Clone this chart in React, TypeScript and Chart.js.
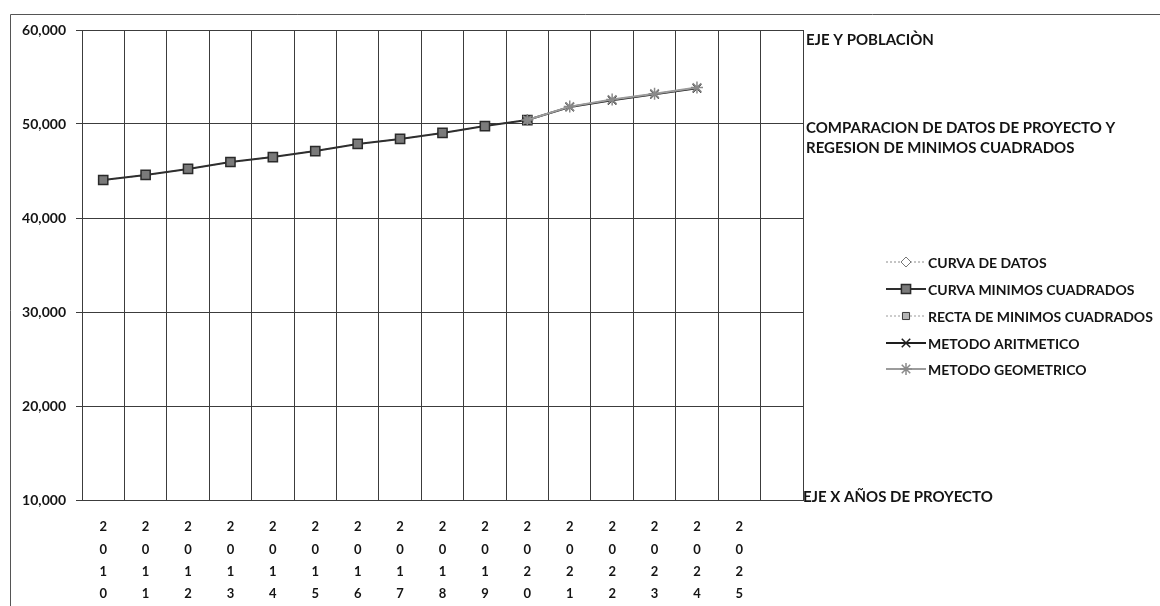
import React, { useEffect, useRef } from "react";
import { Chart, registerables } from "chart.js";
import { drawPoint } from "chart.js/helpers";

Chart.register(...registerables);

const years: string[] = ["2010", "2011", "2012", "2013", "2014", "2015", "2016", "2017", "2018", "2019", "2020", "2021", "2022", "2023", "2024", "2025", ""];

const curvaDatos: (number | null)[] = [44050, 44570, 45210, 45950, 46490, 47130, 47870, 48400, 49040, 49790, 50430, null, null, null, null, null, null];
const curvaMinimos: (number | null)[] = [44040, 44580, 45220, 45960, 46480, 47120, 47880, 48410, 49050, 49780, 50420, null, null, null, null, null, null];
const rectaMinimos: (number | null)[] = [44030, 44560, 45200, 45940, 46500, 47140, 47860, 48420, 49030, 49800, 50440, null, null, null, null, null, null];
const metodoAritmetico: (number | null)[] = [null, null, null, null, null, null, null, null, null, null, 50430, 51800, 52520, 53170, 53800, null, null];
const metodoGeometrico: (number | null)[] = [null, null, null, null, null, null, null, null, null, null, 50430, 51850, 52600, 53230, 53880, null, null];

const seriesNames: string[] = ["CURVA DE DATOS", "CURVA MINIMOS CUADRADOS", "RECTA DE MINIMOS CUADRADOS", "METODO ARITMETICO", "METODO GEOMETRICO"];

const yTicks: number[] = [10000, 20000, 30000, 40000, 50000, 60000];

const FONT = "Lato, 'Open Sans', sans-serif";
const TEXT = "#141414";

const annotations = [
  { text: "EJE Y POBLACIÒN", x: 806, y: 40 },
  { text: "COMPARACION DE DATOS DE PROYECTO Y", x: 806, y: 128 },
  { text: "REGESION DE MINIMOS CUADRADOS", x: 806, y: 148 },
  { text: "EJE X AÑOS DE PROYECTO", x: 803, y: 497 },
];

const overlayPlugin = {
  id: "overlay",
  beforeDraw(chart: any) {
    const ctx = chart.ctx;
    ctx.save();
    ctx.strokeStyle = "#555";
    ctx.lineWidth = 1;
    ctx.beginPath();
    ctx.moveTo(10.5, 606);
    ctx.lineTo(10.5, 14.5);
    ctx.lineTo(1160, 14.5);
    ctx.stroke();
    ctx.restore();
  },
  afterDraw(chart: any) {
    const ctx = chart.ctx;
    ctx.save();
    ctx.fillStyle = TEXT;
    ctx.font = `bold 15px ${FONT}`;
    ctx.textBaseline = "middle";
    ctx.textAlign = "left";
    annotations.forEach((a) => ctx.fillText(a.text, a.x, a.y));

    // legend
    const legendY = [262, 289, 316, 343, 369];
    chart.data.datasets.forEach((ds: any, i: number) => {
      const y = legendY[i];
      const x0 = 886;
      const x1 = 926;
      const cx = 906;
      ctx.save();
      ctx.strokeStyle = ds.borderColor;
      ctx.lineWidth = ds.borderWidth;
      ctx.setLineDash(ds.borderDash || []);
      ctx.beginPath();
      ctx.moveTo(x0, y);
      ctx.lineTo(x1, y);
      ctx.stroke();
      ctx.setLineDash([]);
      ctx.fillStyle = ds.pointBackgroundColor;
      ctx.strokeStyle = ds.pointBorderColor;
      ctx.lineWidth = ds.pointBorderWidth;
      drawPoint(ctx, { pointStyle: ds.pointStyle, radius: ds.pointRadius, rotation: 0, borderWidth: ds.pointBorderWidth }, cx, y);
      ctx.restore();
      ctx.fillStyle = TEXT;
      ctx.font = `bold 14px ${FONT}`;
      ctx.textBaseline = "middle";
      ctx.fillText(ds.label, 928, y + 1);
    });
    ctx.restore();
  },
};

export default function App() {
  const ref = useRef<HTMLCanvasElement | null>(null);

  useEffect(() => {
    if (!ref.current) return;
    const chart = new Chart(ref.current, {
      type: "line",
      data: {
        labels: years.map((y) => (y ? y.split("") : "")),
        datasets: [
          {
            label: seriesNames[0],
            data: curvaDatos,
            borderColor: "#8a8a8a",
            borderWidth: 1,
            borderDash: [2, 2],
            pointStyle: "rectRot",
            pointRadius: 5,
            pointBackgroundColor: "#ffffff",
            pointBorderColor: "#777",
            pointBorderWidth: 1,
            order: 5,
          },
          {
            label: seriesNames[1],
            data: curvaMinimos,
            borderColor: "#2e2e2e",
            borderWidth: 2,
            pointStyle: "rect",
            pointRadius: 6.5,
            pointBackgroundColor: "#7a7a7a",
            pointBorderColor: "#2a2a2a",
            pointBorderWidth: 1.5,
            order: 2,
          },
          {
            label: seriesNames[2],
            data: rectaMinimos,
            borderColor: "#9a9a9a",
            borderWidth: 1,
            borderDash: [2, 2],
            pointStyle: "rect",
            pointRadius: 5,
            pointBackgroundColor: "#b5b5b5",
            pointBorderColor: "#3a3a3a",
            pointBorderWidth: 1,
            order: 3,
          },
          {
            label: seriesNames[3],
            data: metodoAritmetico,
            borderColor: "#1e1e1e",
            borderWidth: 2,
            pointStyle: "crossRot",
            pointRadius: 6,
            pointBackgroundColor: "#1e1e1e",
            pointBorderColor: "#1e1e1e",
            pointBorderWidth: 1.5,
            order: 4,
          },
          {
            label: seriesNames[4],
            data: metodoGeometrico,
            borderColor: "#9c9c9c",
            borderWidth: 2,
            pointStyle: "star",
            pointRadius: 6,
            pointBackgroundColor: "#9c9c9c",
            pointBorderColor: "#8a8a8a",
            pointBorderWidth: 1.5,
            order: 1,
          },
        ],
      },
      options: {
        animation: false,
        responsive: true,
        maintainAspectRatio: false,
        spanGaps: false,
        layout: { padding: { left: 0, right: 357, top: 30, bottom: 0 } },
        plugins: {
          legend: { display: false },
          tooltip: { enabled: false },
          title: { display: false },
        },
        scales: {
          x: {
            type: "category",
            offset: true,
            grid: { display: true, offset: true, color: "#3c3c3c", lineWidth: 1, drawTicks: false },
            border: { display: true, color: "#3c3c3c" },
            ticks: {
              autoSkip: false,
              maxRotation: 0,
              minRotation: 0,
              padding: 16,
              color: TEXT,
              font: { family: FONT, size: 13, weight: "bold", lineHeight: 1.72 },
            },
            afterFit(scale: any) {
              scale.height = 106;
            },
          },
          y: {
            type: "linear",
            min: 10000,
            max: 60000,
            afterBuildTicks(scale: any) {
              scale.ticks = yTicks.map((v) => ({ value: v }));
            },
            grid: { display: true, color: "#3c3c3c", lineWidth: 1, drawTicks: true, tickLength: 6 },
            border: { display: true, color: "#3c3c3c" },
            ticks: {
              padding: 10,
              color: TEXT,
              font: { family: FONT, size: 14, weight: "bold" },
              callback: (v: any) => Number(v).toLocaleString("en-US"),
            },
            afterFit(scale: any) {
              scale.width = 82;
            },
          },
        },
      },
      plugins: [overlayPlugin],
    });
    return () => chart.destroy();
  }, []);

  return (
    <div style={{ position: "fixed", left: 0, top: 0, width: 1160, height: 606, background: "#fff" }}>
      <canvas ref={ref} />
    </div>
  );
}
